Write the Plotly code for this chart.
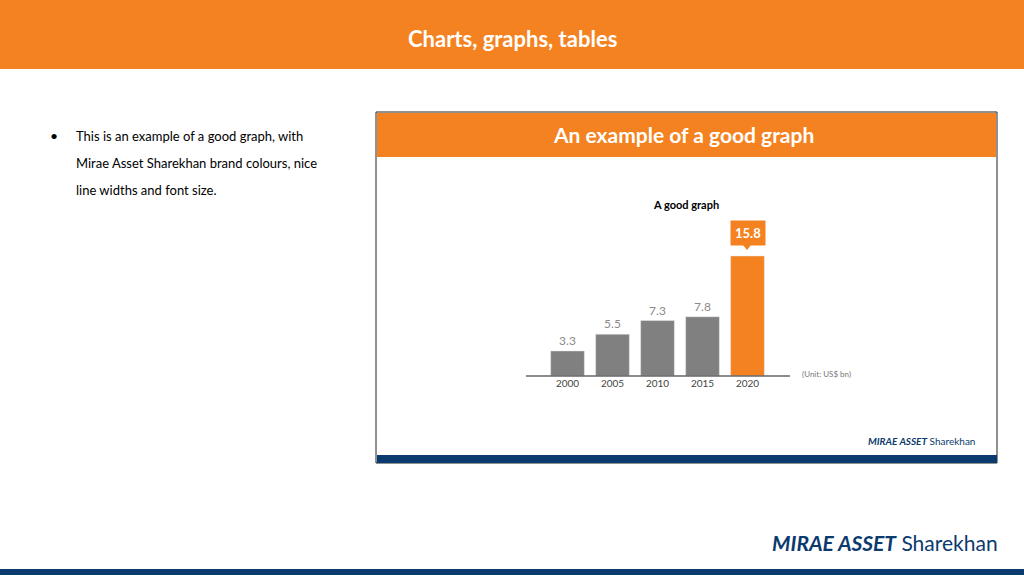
import plotly.graph_objects as go

years = ["2000", "2005", "2010", "2015", "2020"]
values = [3.3, 5.5, 7.3, 7.8, 15.8]
colors = ["#808080", "#808080", "#808080", "#808080", "#F58220"]
bullet_lines = [
    "This is an example of a good graph, with",
    "Mirae Asset Sharekhan brand colours, nice",
    "line widths and font size.",
]

ORANGE = "#F58220"
NAVY = "#0B3A6E"
W, H = 1024, 575

def px(x):
    return x / W

def py(y):
    return 1 - y / H

fig = go.Figure()
fig.add_trace(go.Bar(
    x=years, y=values, marker_color=colors, width=0.75,
    text=[f"{v}" if v < 15 else "" for v in values],
    textposition="outside", textfont=dict(color="#8a8a8a", size=12, family="Lato"),
    cliponaxis=False, showlegend=False, hoverinfo="skip",
))

shapes = [
    dict(type="rect", xref="paper", yref="paper", x0=0, x1=1, y0=py(69), y1=1,
         fillcolor=ORANGE, line_width=0, layer="below"),
    dict(type="rect", xref="paper", yref="paper", x0=px(376), x1=px(997), y0=py(463), y1=py(112),
         fillcolor="white", line=dict(color="#222", width=1), layer="below"),
    dict(type="rect", xref="paper", yref="paper", x0=px(377), x1=px(996), y0=py(157), y1=py(113),
         fillcolor=ORANGE, line_width=0, layer="below"),
    dict(type="rect", xref="paper", yref="paper", x0=px(377), x1=px(997), y0=py(463), y1=py(455),
         fillcolor=NAVY, line_width=0, layer="below"),
    dict(type="rect", xref="paper", yref="paper", x0=0, x1=1, y0=0, y1=py(569),
         fillcolor=NAVY, line_width=0),
    dict(type="line", xref="paper", yref="paper", x0=px(526), x1=px(790), y0=py(376), y1=py(376),
         line=dict(color="#666", width=1.5)),
    dict(type="path", xref="paper", yref="paper",
         path=f"M {px(743)} {py(245)} L {px(751)} {py(245)} L {px(747)} {py(250)} Z",
         fillcolor=ORANGE, line_width=0),
]

def note(text, x, y, size, color, xanchor="center", bold=False):
    return dict(text=f"<b>{text}</b>" if bold else text, x=px(x), y=py(y),
                xref="paper", yref="paper", xanchor=xanchor, yanchor="middle",
                showarrow=False, font=dict(color=color, size=size, family="Lato"))

ann = [
    note("Charts, graphs, tables", 512, 38, 22, "white", bold=True),
    note("An example of a good graph", 683, 134, 21, "white", bold=True),
    note("A good graph", 686, 205, 11, "black", bold=True),
    note("•", 48, 135, 14, "black", xanchor="left"),
    note("(Unit: US$ bn)", 800, 374, 8, "#777", xanchor="left"),
    note("<b><i>MIRAE ASSET</i></b> Sharekhan", 977, 441, 10, NAVY, xanchor="right"),
    note("<b><i>MIRAE ASSET</i></b> Sharekhan", 1000, 542, 21, NAVY, xanchor="right"),
    dict(text=f"<b>{values[-1]}</b>", x=4, y=values[-1], xref="x", yref="y",
         xanchor="center", yanchor="bottom", yshift=10, showarrow=False,
         bgcolor=ORANGE, borderpad=4, font=dict(color="white", size=13, family="Lato")),
]
for i, line in enumerate(bullet_lines):
    ann.append(note(line, 74, 136 + 27 * i, 13, "black", xanchor="left"))

fig.update_layout(
    width=W, height=H, margin=dict(l=0, r=0, t=0, b=0, autoexpand=False),
    paper_bgcolor="white", plot_bgcolor="rgba(0,0,0,0)",
    shapes=shapes, annotations=ann, hovermode=False,
    xaxis=dict(type="category", categoryorder="array", categoryarray=years,
               range=[-0.5, 4.5], domain=[px(545), px(770)], showgrid=False,
               showline=False, zeroline=False, automargin=False,
               tickfont=dict(size=10, color="#444", family="Lato"), ticks=""),
    yaxis=dict(domain=[py(376), py(243)], range=[0, 17.5], visible=False, automargin=False),
)
fig.write_html("out.html", config={"displayModeBar": False})

with open("out.html") as f:
    html = f.read()
html = html.replace("<head>", "<head><style>body{margin:0;overflow:hidden}</style>", 1)
with open("out.html", "w") as f:
    f.write(html)
